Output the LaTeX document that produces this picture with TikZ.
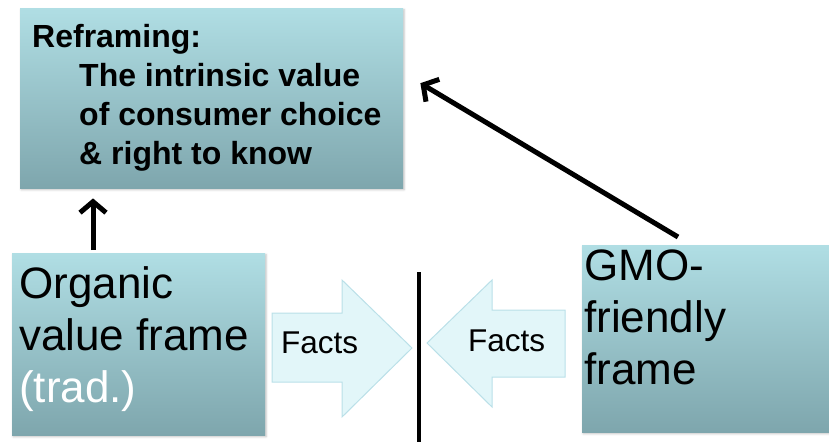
\documentclass[tikz,border=0pt]{standalone}
\usepackage{fontspec}
\setmainfont{Liberation Sans}
\usetikzlibrary{arrows.meta, positioning, shadows.blur, calc}

\definecolor{frametop}{RGB}{176,222,228}
\definecolor{framebot}{RGB}{126,166,173}
\definecolor{factsfill}{RGB}{226,246,249}
\definecolor{factsedge}{RGB}{186,224,232}

\tikzset{
    framebox/.style={rectangle, top color=frametop, bottom color=framebot,
        inner sep=0pt, anchor=north west,
        blur shadow={shadow xshift=1pt, shadow yshift=-1.5pt, shadow blur steps=4, shadow opacity=25}},
    bigtext/.style={font=\fontsize{44}{52}\selectfont, align=left, anchor=north west, inner sep=0pt},
    factsarrow/.style={fill=factsfill, draw=factsedge, line width=1pt},
    factstext/.style={font=\fontsize{31.5}{36}\selectfont, anchor=base west, inner sep=0pt},
    link/.style={line width=5pt, -{Straight Barb[length=11pt, width=26pt]}},
    wall/.style={line width=4pt}
}

\begin{document}
\begin{tikzpicture}[x=1pt, y=-1pt]

    \useasboundingbox (0,0) rectangle (829,442);

    \node[framebox, minimum width=383pt, minimum height=180pt] (reframe) at (20,8) {};
    \node[framebox, minimum width=253pt, minimum height=182pt] (organic) at (12,253) {};
    \node[framebox, minimum width=247pt, minimum height=187pt] (gmo) at (582,245) {};

    \node[font=\fontsize{32}{39}\selectfont\bfseries, align=left, anchor=north west, inner sep=0pt]
        (reframetxt) at (32,24) {Reframing:\\
        \hspace*{47pt}The intrinsic value\\
        \hspace*{47pt}of consumer choice\\
        \hspace*{47pt}\& right to know};

    \node[bigtext] (organictxt) at (19,266) {Organic\\value frame\\\textcolor{white}{(trad.)}};
    \node[bigtext] (gmotxt) at (584,250) {GMO-\\friendly\\frame};

    \draw[factsarrow] (272,313) -- (342,313) -- (342,280) -- (412,348)
        -- (342,417) -- (342,382) -- (272,382) -- cycle;
    \draw[factsarrow] (565,310) -- (492,310) -- (492,280) -- (427,343)
        -- (492,407) -- (492,377) -- (565,377) -- cycle;

    \node[factstext] (factsl) at (281,353) {Facts};
    \node[factstext] (factsr) at (468,351) {Facts};

    \coordinate (walltop) at (419,272);
    \coordinate (wallfoot) at (419,442);
    \draw[wall] (walltop) -- (wallfoot);

    \coordinate (upx) at (93,0);
    \draw[link, shorten <=3pt, shorten >=10pt] (organic.north -| upx) -- (reframe.south -| upx);
    \draw[link] ($(gmo.north west)+(96,-8)$) -- ($(reframe.east)+(17,-15)$);

\end{tikzpicture}
\end{document}
